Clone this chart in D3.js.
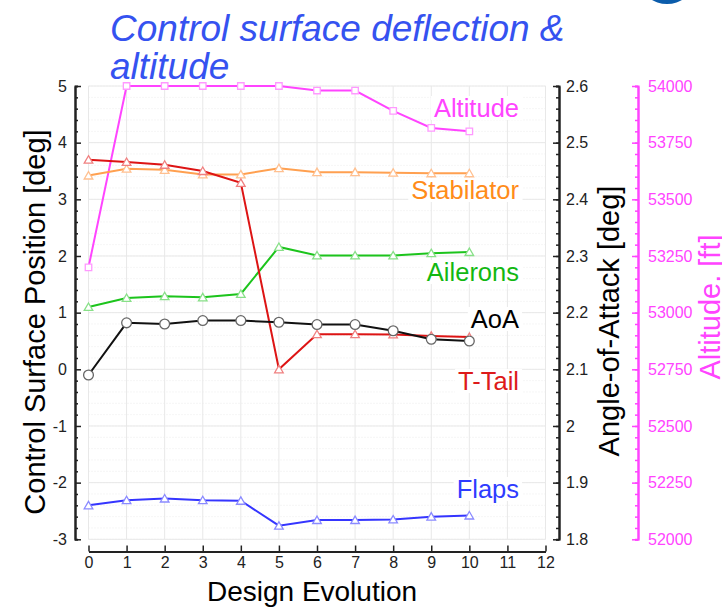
<!DOCTYPE html>
<html>
<head>
<meta charset="utf-8">
<title>Control surface deflection & altitude</title>
<script src="https://d3js.org/d3.v7.min.js"></script>
<style>
  body { margin: 0; background: #fff; }
  svg text { font-family: "Liberation Sans", Arial, Helvetica, sans-serif; }
</style>
</head>
<body>
<svg id="chart" width="722" height="607"></svg>
<script>
// design steps
var steps = [0, 1, 2, 3, 4, 5, 6, 7, 8, 9, 10];
// control surfaces [deg] (left axis)
var stabilator = [3.42, 3.54, 3.52, 3.44, 3.44, 3.55, 3.48, 3.48, 3.47, 3.46, 3.46];
var tTail      = [3.70, 3.66, 3.61, 3.50, 3.29, 0.00, 0.62, 0.62, 0.615, 0.59, 0.57];
var ailerons   = [1.10, 1.26, 1.29, 1.27, 1.33, 2.16, 2.01, 2.01, 2.01, 2.05, 2.07];
var flaps      = [-2.40, -2.31, -2.28, -2.31, -2.32, -2.76, -2.66, -2.66, -2.65, -2.60, -2.58];
// angle of attack [deg] (middle right axis)
var aoa = [2.09, 2.182, 2.180, 2.186, 2.186, 2.183, 2.179, 2.179, 2.168, 2.153, 2.150];
// altitude [ft] (far right axis)
var altitude = [53200, 54000, 54000, 54000, 54000, 54000, 53980, 53980, 53890, 53815, 53800];

var xTicks = d3.range(0, 13);
var leftTicks = d3.range(-3, 6);
var aoaTicks = [1.8, 1.9, 2, 2.1, 2.2, 2.3, 2.4, 2.5, 2.6];
var altTicks = [52000, 52250, 52500, 52750, 53000, 53250, 53500, 53750, 54000];

var svg = d3.select("#chart");

var plotTop = 86, plotBottom = 539.3;
var x = d3.scaleLinear().domain([0, 12]).range([88.5, 545.5]);
var yL = d3.scaleLinear().domain([-3, 5]).range([plotBottom, plotTop]);
var yA = d3.scaleLinear().domain([1.8, 2.6]).range([plotBottom, plotTop]);
var yH = d3.scaleLinear().domain([52000, 54000]).range([plotBottom, plotTop]);

var magenta = "#ff44ff";
var plain = d => String(d);

// logo fragment top right
svg.append("ellipse").attr("cx", 667).attr("cy", -16).attr("rx", 25).attr("ry", 20)
  .attr("fill", "#0b5cab");

// grid
var grid = svg.append("g");
grid.selectAll(".minor").data(d3.range(-3, 5.01, 0.2)).enter().append("line")
  .attr("x1", x(0)).attr("x2", x(12))
  .attr("y1", d => yL(d)).attr("y2", d => yL(d))
  .attr("stroke", "#ececec").attr("stroke-dasharray", "1,2");
grid.selectAll(".hmaj").data(leftTicks).enter().append("line")
  .attr("x1", x(0)).attr("x2", x(12))
  .attr("y1", d => yL(d)).attr("y2", d => yL(d))
  .attr("stroke", "#e8e8e8");
grid.selectAll(".vmaj").data(xTicks).enter().append("line")
  .attr("y1", plotTop).attr("y2", plotBottom)
  .attr("x1", d => x(d)).attr("x2", d => x(d))
  .attr("stroke", "#e8e8e8");

function styleAxis(g, color, size) {
  g.attr("font-size", size).attr("font-family", "'Liberation Sans', Arial, sans-serif");
  g.selectAll(".domain").attr("stroke", color).attr("stroke-width", 2);
  g.selectAll(".tick line").attr("stroke", color).attr("stroke-width", 1.5);
  g.selectAll("text").attr("fill", color);
}

// left axis
var gl = svg.append("g").attr("transform", "translate(75,0)");
gl.append("g").call(d3.axisLeft(yL).tickValues(d3.range(-3, 5.01, 0.2).filter(v => Math.abs(v - Math.round(v)) > 0.01))
  .tickSize(-3).tickFormat(""));
gl.append("g").call(d3.axisLeft(yL).tickValues(leftTicks).tickSizeInner(-6).tickSizeOuter(0).tickPadding(8).tickFormat(plain));
styleAxis(gl, "#222", 16);

// bottom axis
var gb = svg.append("g").attr("transform", "translate(0,551.5)");
gb.call(d3.axisBottom(x).tickValues(xTicks).tickSizeInner(-6).tickSizeOuter(0).tickPadding(5).tickFormat(plain));
styleAxis(gb, "#222", 16);

// AoA axis
var ga = svg.append("g").attr("transform", "translate(559,0)");
ga.append("g").call(d3.axisRight(yA).tickValues(d3.range(1.8, 2.601, 0.02)).tickSize(-3).tickFormat(""));
ga.append("g").call(d3.axisRight(yA).tickValues(aoaTicks).tickSizeInner(-6).tickSizeOuter(0).tickPadding(7).tickFormat(plain));
styleAxis(ga, "#222", 16);

// altitude axis
var gh = svg.append("g").attr("transform", "translate(638,0)");
gh.append("g").call(d3.axisRight(yH).tickValues(d3.range(52000, 54001, 50)).tickSize(-3).tickFormat(""));
gh.append("g").call(d3.axisRight(yH).tickValues(altTicks).tickSizeInner(-6).tickSizeOuter(0).tickPadding(10).tickFormat(plain));
styleAxis(gh, magenta, 16);
// the axis sets its own font-size on the inner groups; let them inherit
[gl, ga, gh].forEach(g => g.selectAll("g").attr("font-size", null).attr("font-family", null));

// axis titles
svg.append("text").attr("transform", "translate(45,322) rotate(-90)")
  .attr("text-anchor", "middle").style("font-size", "29px").attr("fill", "#000")
  .text("Control Surface Position [deg]");
svg.append("text").attr("transform", "translate(619,321) rotate(-90)")
  .attr("text-anchor", "middle").style("font-size", "29px").attr("fill", "#000")
  .text("Angle-of-Attack [deg]");
svg.append("text").attr("transform", "translate(720,307) rotate(-90)")
  .attr("text-anchor", "middle").style("font-size", "29px").attr("fill", magenta)
  .text("Altitude. [ft]");
svg.append("text").attr("x", 312).attr("y", 601)
  .attr("text-anchor", "middle").style("font-size", "28px").attr("fill", "#000")
  .text("Design Evolution");

// series
var series = [
  { name: "Altitude", vals: altitude, y: yH, color: magenta, mark: "#ff99ff", shape: "square", ly: 117, lc: magenta },
  { name: "Stabilator", vals: stabilator, y: yL, color: "#ffa050", mark: "#ffc090", shape: "tri", ly: 199, lc: "#ff8c1a" },
  { name: "Ailerons", vals: ailerons, y: yL, color: "#1cc41c", mark: "#88e088", shape: "tri", ly: 281, lc: "#12b812" },
  { name: "T-Tail", vals: tTail, y: yL, color: "#dd1414", mark: "#f08080", shape: "tri", ly: 390, lc: "#dd1a1a" },
  { name: "AoA", vals: aoa, y: yA, color: "#111", mark: "#666", shape: "circle", ly: 328, lc: "#000" },
  { name: "Flaps", vals: flaps, y: yL, color: "#3535ff", mark: "#8a8aff", shape: "tri", ly: 498, lc: "#2f3cff" }
];

var line = d3.line();
series.forEach(function(s) {
  var pts = steps.map((d, i) => [x(d), s.y(s.vals[i])]);
  svg.append("path").attr("d", line(pts))
    .attr("fill", "none").attr("stroke", s.color).attr("stroke-width", 2);
  var sym = s.shape === "circle" ? d3.symbolCircle : s.shape === "square" ? d3.symbolSquare : d3.symbolTriangle;
  var size = s.shape === "circle" ? 75 : s.shape === "square" ? 42 : 32;
  svg.selectAll(null).data(pts).enter().append("path")
    .attr("d", d3.symbol().type(sym).size(size))
    .attr("transform", d => "translate(" + d[0] + "," + (d[1] + (s.shape === "tri" ? 1 : 0)) + ")")
    .attr("fill", "#fff").attr("stroke", s.mark).attr("stroke-width", 1.3);
});

// series labels with white backing
series.forEach(function(s) {
  var t = svg.append("text").attr("x", 519).attr("y", s.ly)
    .attr("text-anchor", "end").style("font-size", "25.5px").attr("fill", s.lc)
    .text(s.name);
  var b = t.node().getBBox();
  svg.insert("rect", function() { return t.node(); })
    .attr("x", b.x - 3).attr("y", b.y + 2).attr("width", b.width + 6).attr("height", b.height - 4)
    .attr("fill", "#fff");
});

// title
var title = svg.append("text").attr("fill", "#3552f0")
  .style("font-size", "37px").style("font-style", "italic");
title.append("tspan").attr("x", 110).attr("y", 41).text("Control surface deflection &");
title.append("tspan").attr("x", 110).attr("y", 79).text("altitude");
</script>
</body>
</html>
